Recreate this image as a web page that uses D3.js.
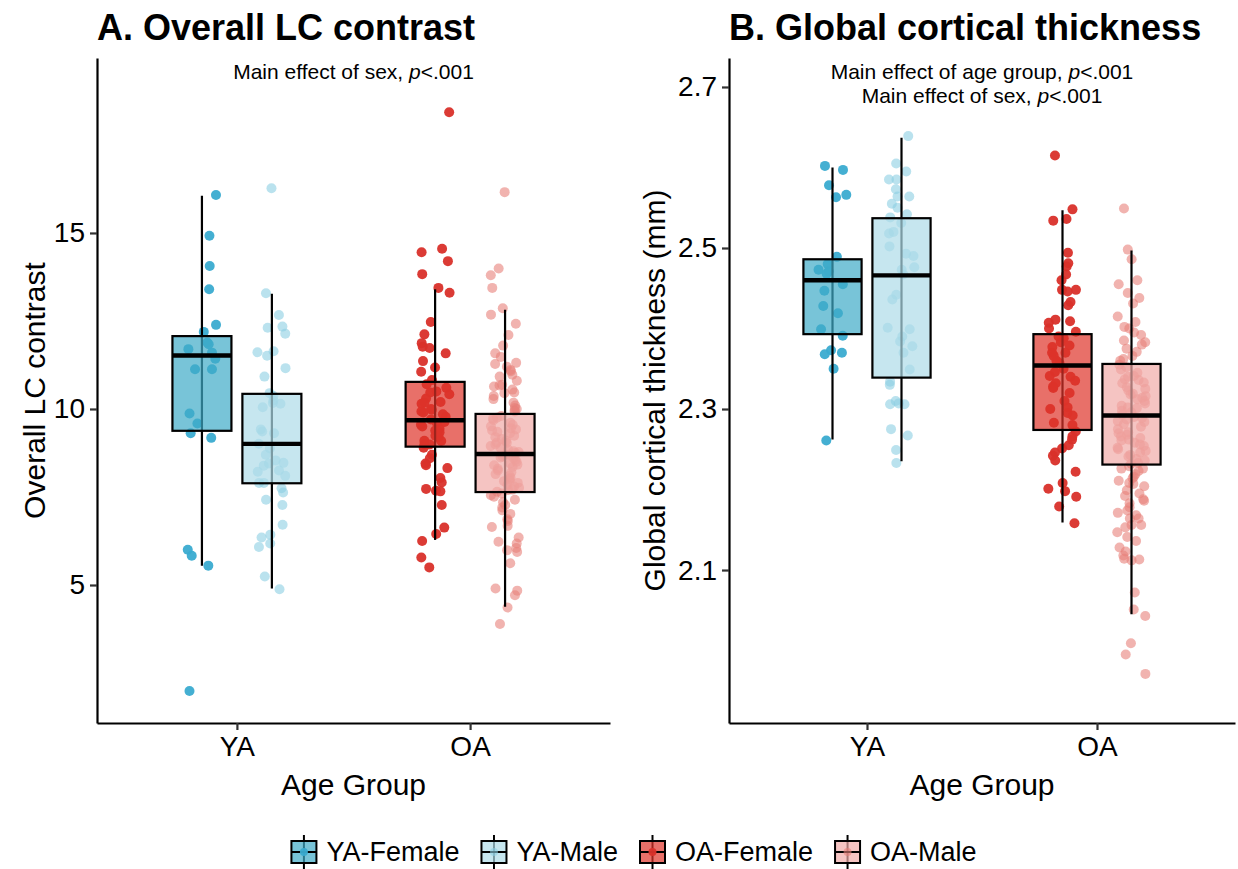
<!DOCTYPE html>
<meta charset="utf-8">
<html>
<head>
  <title>LC contrast and cortical thickness by age group and sex</title>
  <script src="https://d3js.org/d3.v7.min.js"></script>
  <style>
    body { margin: 0; background: #fff; }
    svg { font-family: "Liberation Sans", Arial, sans-serif; }
  </style>
</head>
<body>
  <svg id="svg" width="1238" height="869"></svg>

  <script>
    var groups = ["YA", "OA"];
    var sexes = ["Female", "Male"];
    var subgroups = ["YA-Female", "YA-Male", "OA-Female", "OA-Male"];

    // Overall LC contrast, one array per subgroup
    var lcYAFemale = [16.08, 14.92, 14.06, 13.40, 12.39, 12.19, 11.89, 11.84, 11.70, 11.60, 11.43, 11.13, 11.13,
      9.87, 9.59, 9.31, 9.18, 6.00, 5.83, 5.55, 1.99];
    var lcYAMale = [16.27, 13.29, 12.67, 12.34, 12.31, 12.14, 11.64, 11.61, 11.51, 11.16, 10.92, 10.45, 10.37,
      10.24, 10.17, 10.15, 10.05, 9.42, 9.36, 9.31, 9.01, 8.88, 8.70, 8.54, 8.47, 8.45, 8.39, 8.25, 8.22, 8.10,
      7.90, 7.90, 7.75, 7.63, 7.42, 7.27, 6.71, 6.43, 6.35, 6.18, 6.08, 5.24, 4.88];
    var lcOAFemale = [18.43, 14.55, 14.45, 14.20, 13.83, 13.44, 13.30, 12.47, 12.12, 11.87, 11.77, 11.73, 11.58,
      11.36, 11.18, 11.06, 10.82, 10.70, 10.60, 10.50, 10.47, 10.42, 10.30, 10.20, 10.18, 10.15, 10.00, 9.98,
      9.93, 9.90, 9.85, 9.78, 9.70, 9.63, 9.60, 9.55, 9.50, 9.44, 9.39, 9.34, 9.24, 9.20, 9.10, 9.09, 9.00,
      8.99, 8.90, 8.70, 8.60, 8.45, 8.40, 8.32, 8.04, 7.91, 7.73, 7.68, 7.66, 7.27, 6.63, 6.45, 6.25, 5.78, 5.50];
    var lcOAMale = [16.16, 13.99, 13.80, 13.44, 12.86, 12.68, 12.42, 12.10, 11.80, 11.58, 11.48, 11.31, 11.28,
      11.20, 11.11, 11.07, 10.97, 10.92, 10.80, 10.69, 10.67, 10.64, 10.55, 10.47, 10.45, 10.37, 10.28, 10.18,
      10.10, 10.03, 10.00, 9.95, 9.93, 9.80, 9.75, 9.72, 9.68, 9.61, 9.55, 9.51, 9.45, 9.42, 9.39, 9.35, 9.31,
      9.24, 9.20, 9.15, 9.10, 9.05, 9.04, 8.99, 8.95, 8.90, 8.85, 8.80, 8.78, 8.75, 8.70, 8.68, 8.65, 8.62,
      8.60, 8.55, 8.50, 8.45, 8.42, 8.40, 8.35, 8.30, 8.25, 8.20, 8.15, 8.10, 8.05, 8.01, 7.96, 7.95, 7.90,
      7.85, 7.80, 7.76, 7.71, 7.70, 7.65, 7.60, 7.55, 7.51, 7.42, 7.35, 7.27, 7.20, 7.12, 7.02, 6.87, 6.82,
      6.68, 6.65, 6.35, 6.23, 6.18, 6.05, 5.99, 5.94, 5.62, 4.90, 4.84, 4.71, 4.36, 3.89];

    // Box summaries for LC contrast: YA-F, YA-M, OA-F, OA-M
    var lcLow = [5.55, 4.90, 6.28, 4.38];
    var lcQ1 = [9.38, 7.89, 8.93, 7.64];
    var lcMedian = [11.52, 9.01, 9.68, 8.72];
    var lcQ3 = [12.07, 10.43, 10.77, 9.86];
    var lcHigh = [16.06, 13.27, 13.40, 12.82];

    // Global cortical thickness (mm)
    var ctYAFemale = [2.602, 2.597, 2.578, 2.566, 2.563, 2.489, 2.480, 2.473, 2.471, 2.468, 2.455, 2.447, 2.428,
      2.419, 2.399, 2.391, 2.373, 2.370, 2.368, 2.350, 2.261];
    var ctYAMale = [2.639, 2.605, 2.595, 2.585, 2.585, 2.573, 2.564, 2.564, 2.555, 2.550, 2.542, 2.538, 2.531,
      2.520, 2.518, 2.502, 2.493, 2.490, 2.476, 2.473, 2.467, 2.442, 2.436, 2.401, 2.399, 2.390, 2.384, 2.378,
      2.370, 2.349, 2.334, 2.330, 2.310, 2.307, 2.306, 2.306, 2.275, 2.267, 2.249, 2.233];
    var ctOAFemale = [2.615, 2.548, 2.536, 2.534, 2.494, 2.481, 2.477, 2.467, 2.460, 2.448, 2.448, 2.446, 2.433,
      2.429, 2.411, 2.409, 2.407, 2.400, 2.396, 2.390, 2.388, 2.383, 2.379, 2.377, 2.370, 2.370, 2.366, 2.360,
      2.357, 2.350, 2.346, 2.341, 2.340, 2.335, 2.332, 2.328, 2.326, 2.320, 2.310, 2.302, 2.300, 2.295, 2.292,
      2.283, 2.280, 2.272, 2.266, 2.262, 2.255, 2.251, 2.246, 2.242, 2.236, 2.222, 2.208, 2.201, 2.198, 2.191,
      2.179, 2.158];
    var ctOAMale = [2.549, 2.498, 2.486, 2.460, 2.455, 2.444, 2.438, 2.431, 2.415, 2.408, 2.402, 2.400, 2.395,
      2.392, 2.385, 2.383, 2.380, 2.375, 2.371, 2.366, 2.362, 2.360, 2.355, 2.352, 2.349, 2.345, 2.341, 2.340,
      2.337, 2.336, 2.333, 2.332, 2.327, 2.325, 2.323, 2.319, 2.318, 2.316, 2.314, 2.312, 2.310, 2.307, 2.304,
      2.302, 2.301, 2.298, 2.296, 2.293, 2.290, 2.289, 2.287, 2.285, 2.284, 2.281, 2.278, 2.275, 2.271, 2.270,
      2.268, 2.266, 2.264, 2.262, 2.261, 2.258, 2.256, 2.254, 2.252, 2.250, 2.248, 2.246, 2.243, 2.241, 2.238,
      2.236, 2.233, 2.232, 2.229, 2.226, 2.226, 2.223, 2.219, 2.216, 2.214, 2.211, 2.208, 2.207, 2.204, 2.199,
      2.195, 2.192, 2.188, 2.186, 2.183, 2.178, 2.174, 2.171, 2.168, 2.164, 2.164, 2.156, 2.156, 2.153, 2.147,
      2.141, 2.136, 2.128, 2.123, 2.118, 2.114, 2.113, 2.112, 2.072, 2.051, 2.043, 2.009, 1.995, 1.971];

    var ctLow = [2.262, 2.235, 2.159, 2.045];
    var ctQ1 = [2.393, 2.339, 2.274, 2.231];
    var ctMedian = [2.460, 2.466, 2.354, 2.292];
    var ctQ3 = [2.486, 2.537, 2.393, 2.356];
    var ctHigh = [2.600, 2.637, 2.547, 2.497];

    var lcTicks = [5, 10, 15];
    var ctTicks = [2.1, 2.3, 2.5, 2.7];

    // colours
    var boxFill = ["#3eabc7", "#aedbe8", "#de332a", "#f1aba8"];
    var pointFill = ["#3aabd0", "#8ccfe2", "#d9302a", "#e8807a"];
    var pointAlpha = [0.95, 0.6, 0.95, 0.6];

    var svg = d3.select("#svg");

    function panel(cfg) {
      var x = d3.scalePoint().domain(groups).range([cfg.left, cfg.right]).padding(0.6);
      var step = x.step();
      var dodge = d3.scalePoint().domain(sexes).range([-0.15 * step, 0.15 * step]);
      var y = d3.scaleLinear().domain(cfg.domain).range([cfg.bottom, cfg.top]);
      var bw = 0.253 * step;
      var g = svg.append("g");

      function centre(i) {
        var parts = subgroups[i].split("-");
        return x(parts[0]) + dodge(parts[1]);
      }

      // jittered points first, the boxes sit on top with some transparency
      cfg.series.forEach(function (vals, i) {
        var cx = centre(i);
        var rand = d3.randomUniform.source(d3.randomLcg(cfg.seed + i * 0.1))(-1, 1);
        g.append("g").selectAll("circle")
          .data(vals)
          .enter()
          .append("circle")
          .attr("cx", function () { return cx + rand() * 0.062 * step; })
          .attr("cy", function (d) { return y(d); })
          .attr("r", 5)
          .attr("fill", pointFill[i])
          .attr("fill-opacity", pointAlpha[i]);
      });

      var boxes = g.append("g").selectAll("g")
        .data(subgroups)
        .enter()
        .append("g");

      boxes.append("line")
        .attr("x1", function (d, i) { return centre(i); })
        .attr("x2", function (d, i) { return centre(i); })
        .attr("y1", function (d, i) { return y(cfg.low[i]); })
        .attr("y2", function (d, i) { return y(cfg.high[i]); })
        .attr("stroke", "#000")
        .attr("stroke-width", 2.2);

      boxes.append("rect")
        .attr("x", function (d, i) { return centre(i) - bw / 2; })
        .attr("width", bw)
        .attr("y", function (d, i) { return y(cfg.q3[i]); })
        .attr("height", function (d, i) { return y(cfg.q1[i]) - y(cfg.q3[i]); })
        .attr("fill", function (d, i) { return boxFill[i]; })
        .attr("fill-opacity", 0.7)
        .attr("stroke", "#000")
        .attr("stroke-width", 2.2);

      boxes.append("line")
        .attr("x1", function (d, i) { return centre(i) - bw / 2; })
        .attr("x2", function (d, i) { return centre(i) + bw / 2; })
        .attr("y1", function (d, i) { return y(cfg.median[i]); })
        .attr("y2", function (d, i) { return y(cfg.median[i]); })
        .attr("stroke", "#000")
        .attr("stroke-width", 4.4);

      // axes
      var ya = g.append("g")
        .attr("transform", "translate(" + cfg.left + ",0)")
        .call(d3.axisLeft(y).tickValues(cfg.ticks).tickFormat(cfg.fmt)
          .tickSize(7).tickSizeOuter(0).tickPadding(5));
      var xa = g.append("g")
        .attr("transform", "translate(0," + cfg.bottom + ")")
        .call(d3.axisBottom(x).tickSize(7).tickSizeOuter(0).tickPadding(6));

      [ya, xa].forEach(function (a) {
        a.attr("font-family", null).attr("font-size", null);
        a.select(".domain").attr("stroke-width", 2.2);
        a.selectAll(".tick line").attr("stroke-width", 2.2).attr("stroke", "#333");
        a.selectAll(".tick text").attr("fill", "#000").style("font-size", "28px");
      });

      // axis titles
      g.append("text")
        .attr("x", (cfg.left + cfg.right) / 2)
        .attr("y", cfg.bottom + 72)
        .attr("text-anchor", "middle")
        .style("font-size", "30px")
        .text("Age Group");

      g.append("text")
        .attr("transform", "translate(" + cfg.ytitleX + "," + (cfg.top + cfg.bottom) / 2 + ") rotate(-90)")
        .attr("text-anchor", "middle")
        .attr("dominant-baseline", "central")
        .style("font-size", "30px")
        .text(cfg.ytitle);

      // panel title
      g.append("text")
        .attr("x", cfg.left)
        .attr("y", 40)
        .style("font-size", "36px")
        .style("font-weight", "bold")
        .text(cfg.title);

      // test annotations
      cfg.notes.forEach(function (note, k) {
        var t = g.append("text")
          .attr("x", (cfg.left + cfg.right) / 2)
          .attr("y", 79 + k * 24)
          .attr("text-anchor", "middle")
          .style("font-size", "21px");
        t.append("tspan").text(note + ", ");
        t.append("tspan").style("font-style", "italic").text("p");
        t.append("tspan").text("<.001");
      });
    }

    panel({
      left: 97, right: 610, top: 58, bottom: 723,
      domain: [1.08, 19.97], ticks: lcTicks, fmt: d3.format("d"),
      series: [lcYAFemale, lcYAMale, lcOAFemale, lcOAMale],
      low: lcLow, q1: lcQ1, median: lcMedian, q3: lcQ3, high: lcHigh,
      title: "A. Overall LC contrast", ytitle: "Overall LC contrast", ytitleX: 34,
      notes: ["Main effect of sex"], seed: 0.31
    });

    panel({
      left: 729, right: 1235, top: 58, bottom: 723,
      domain: [1.910, 2.736], ticks: ctTicks, fmt: d3.format(".1f"),
      series: [ctYAFemale, ctYAMale, ctOAFemale, ctOAMale],
      low: ctLow, q1: ctQ1, median: ctMedian, q3: ctQ3, high: ctHigh,
      title: "B. Global cortical thickness", ytitle: "Global cortical thickness (mm)", ytitleX: 654,
      notes: ["Main effect of age group", "Main effect of sex"], seed: 0.72
    });

    // legend along the bottom
    var legend = svg.append("g").attr("transform", "translate(0,852)");
    var items = legend.selectAll("g")
      .data(subgroups)
      .enter()
      .append("g");

    items.append("line")
      .attr("x1", 12.5).attr("x2", 12.5).attr("y1", -17).attr("y2", 17)
      .attr("stroke", "#000").attr("stroke-width", 2);
    items.append("rect")
      .attr("x", 0).attr("y", -11).attr("width", 25).attr("height", 22)
      .attr("fill", function (d, i) { return boxFill[i]; })
      .attr("fill-opacity", 0.7)
      .attr("stroke", "#000").attr("stroke-width", 2);
    items.append("line")
      .attr("x1", 0).attr("x2", 25).attr("y1", 0).attr("y2", 0)
      .attr("stroke", "#000").attr("stroke-width", 2);
    items.append("circle")
      .attr("cx", 12.5).attr("cy", 0).attr("r", 4)
      .attr("fill", function (d, i) { return pointFill[i]; })
      .attr("fill-opacity", function (d, i) { return pointAlpha[i]; });
    items.append("text")
      .attr("x", 35)
      .attr("dominant-baseline", "central")
      .style("font-size", "27px")
      .text(function (d) { return d; });

    // place the items one after another, then centre the row
    var gap = 22;
    var xpos = 0;
    items.each(function () {
      var w = this.getBBox().width;
      d3.select(this).attr("transform", "translate(" + xpos + ",0)");
      xpos += w + gap;
    });
    var total = xpos - gap;
    var startX = 634 - total / 2;
    items.attr("transform", function () {
      var t = d3.select(this).attr("transform");
      var cur = +t.match(/translate\(([-\d.]+)/)[1];
      return "translate(" + (startX + cur) + ",0)";
    });
  </script>
</body>
</html>
